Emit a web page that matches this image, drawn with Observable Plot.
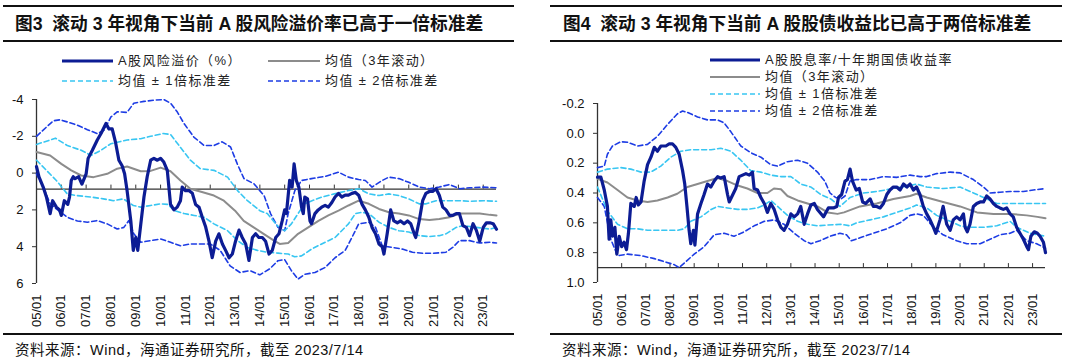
<!DOCTYPE html>
<html><head><meta charset="utf-8">
<script src="https://cdn.jsdelivr.net/npm/d3@7"></script>
<script src="https://cdn.jsdelivr.net/npm/@observablehq/plot@0.6"></script>
<style>
body{margin:0;background:#fff;font-family:"Liberation Sans","Noto Sans CJK SC",sans-serif;color:#111}
#root{position:relative;width:1080px;height:360px;overflow:hidden;background:#fff}
.rule{position:absolute;background:#111}
.title{position:absolute;font-weight:bold;font-size:17.7px;line-height:22px;white-space:pre;color:#111}
.src{position:absolute;font-size:14.5px;letter-spacing:0.5px;line-height:18px;white-space:pre;color:#111}
.leg{position:absolute;font-size:13px;letter-spacing:1.4px;line-height:16px;white-space:pre;color:#222;display:flex;align-items:center}
.leg svg{margin-right:5px}
.plot{position:absolute;top:90px}
</style></head>
<body><div id="root"></div>
<script>
// ---------- data (decimal year, value) ----------
const YEARS = d3.range(2005, 2024);
const END = 2023.535;
const TITLE_L = "图3  滚动 3 年视角下当前 A 股风险溢价率已高于一倍标准差";
const TITLE_R = "图4  滚动 3 年视角下当前 A 股股债收益比已高于两倍标准差";
const SOURCE = "资料来源：Wind，海通证券研究所，截至 2023/7/14";
const LEG_L = ["A股风险溢价（%）", "均值（3年滚动）", "均值 ± 1倍标准差", "均值 ± 2倍标准差"];
const LEG_R = ["A股股息率/十年期国债收益率", "均值（3年滚动）", "均值 ± 1倍标准差", "均值 ± 2倍标准差"];
const L_YTICKS = [-4, -2, 0, 2, 4, 6];
const R_YTICKS = [-0.2, 0.0, 0.2, 0.4, 0.6, 0.8, 1.0];
const L_AXIS = 0.87, R_AXIS = 0.9;

const L_MAIN = [[2005.00,-0.35],[2005.10,0.2],[2005.27,0.76],[2005.40,1.3],[2005.55,2.2],[2005.65,1.5],[2005.80,1.85],[2005.93,2.0],[2006.00,2.3],[2006.12,1.5],[2006.26,1.7],[2006.33,1.3],[2006.40,0.4],[2006.48,0.2],[2006.55,0.3],[2006.70,0.2],[2006.83,0.6],[2007.00,0.04],[2007.08,-0.8],[2007.25,-1.24],[2007.45,-1.8],[2007.60,-2.15],[2007.80,-2.7],[2007.92,-2.4],[2008.05,-2.4],[2008.18,-1.7],[2008.32,-0.7],[2008.45,-0.4],[2008.55,0.04],[2008.65,0.95],[2008.80,2.6],[2008.90,4.2],[2009.00,3.5],[2009.08,4.2],[2009.20,2.8],[2009.33,1.3],[2009.46,0.2],[2009.60,-0.7],[2009.73,-0.8],[2009.87,-0.7],[2010.00,-0.8],[2010.13,-0.6],[2010.27,-0.15],[2010.40,1.7],[2010.54,2.0],[2010.67,1.85],[2010.80,1.5],[2010.87,0.76],[2011.00,0.95],[2011.14,0.95],[2011.28,1.1],[2011.41,1.7],[2011.55,1.85],[2011.68,2.4],[2011.81,2.9],[2011.95,3.7],[2012.08,4.6],[2012.22,3.7],[2012.35,3.3],[2012.49,3.85],[2012.62,4.2],[2012.76,4.6],[2012.89,4.4],[2013.02,3.7],[2013.16,3.1],[2013.29,3.5],[2013.43,3.85],[2013.56,4.75],[2013.70,3.5],[2013.83,3.3],[2013.96,3.5],[2014.10,3.5],[2014.23,3.7],[2014.37,4.4],[2014.50,4.2],[2014.64,3.5],[2014.77,3.3],[2014.90,2.6],[2015.00,2.0],[2015.07,2.2],[2015.20,0.4],[2015.30,0.76],[2015.38,-0.5],[2015.47,0.4],[2015.57,0.76],[2015.68,1.85],[2015.75,2.2],[2015.81,1.3],[2015.92,1.4],[2016.02,2.6],[2016.08,2.75],[2016.22,2.2],[2016.35,2.0],[2016.49,1.85],[2016.63,1.75],[2016.76,1.85],[2016.90,1.6],[2017.03,1.3],[2017.17,1.1],[2017.30,1.3],[2017.44,1.2],[2017.57,1.2],[2017.71,1.1],[2017.85,1.05],[2017.98,1.2],[2018.12,1.7],[2018.25,2.0],[2018.39,2.4],[2018.52,2.95],[2018.66,3.3],[2018.80,3.85],[2018.93,4.0],[2019.00,4.4],[2019.13,3.3],[2019.27,2.0],[2019.40,2.6],[2019.54,2.7],[2019.67,2.6],[2019.81,2.75],[2019.95,2.6],[2020.08,2.75],[2020.22,3.3],[2020.28,3.5],[2020.42,2.6],[2020.56,1.5],[2020.69,1.1],[2020.83,1.0],[2020.96,1.0],[2021.10,0.85],[2021.23,1.2],[2021.37,1.85],[2021.50,2.0],[2021.64,2.3],[2021.77,2.3],[2021.91,2.2],[2022.04,2.2],[2022.18,2.85],[2022.32,2.95],[2022.45,3.4],[2022.59,2.75],[2022.72,3.1],[2022.86,3.7],[2023.00,2.95],[2023.13,2.7],[2023.27,2.7],[2023.40,2.75],[2023.535,3.05]];
const L_MEAN = [[2005.0,-1.15],[2005.55,-0.96],[2006.0,-0.5],[2006.4,-0.15],[2006.8,0.13],[2007.3,0.22],[2007.85,0.04],[2008.25,-0.24],[2008.65,-0.36],[2009.2,-0.1],[2009.6,-0.12],[2010.0,-0.3],[2010.4,-0.1],[2010.8,0.4],[2011.2,0.85],[2011.7,1.04],[2012.15,1.22],[2012.55,1.5],[2013.0,2.04],[2013.35,2.6],[2013.75,2.95],[2014.15,3.3],[2014.57,3.67],[2014.8,3.85],[2015.14,3.8],[2015.54,3.3],[2015.95,2.95],[2016.36,2.6],[2016.76,2.3],[2017.17,2.04],[2017.57,1.76],[2017.98,1.5],[2018.39,1.67],[2018.8,1.95],[2019.2,2.13],[2019.6,2.2],[2020.0,2.3],[2020.42,2.5],[2020.83,2.55],[2021.23,2.5],[2021.64,2.4],[2022.05,2.2],[2022.45,2.2],[2022.86,2.2],[2023.27,2.27],[2023.535,2.3]];
const L_SD1_LO = [[2005.0,-1.56],[2005.55,-1.8],[2005.76,-1.9],[2006.24,-1.5],[2006.8,-1.24],[2007.2,-0.96],[2007.6,-1.24],[2008.0,-1.6],[2008.65,-1.8],[2009.2,-1.87],[2009.6,-2.0],[2010.1,-2.15],[2010.4,-2.1],[2010.8,-1.4],[2011.2,-0.7],[2011.6,-0.24],[2012.15,-0.15],[2012.7,0.22],[2013.1,0.95],[2013.5,1.5],[2014.0,2.04],[2014.3,2.2],[2014.7,2.85],[2015.0,3.13],[2015.27,2.76],[2015.54,2.2],[2015.8,1.67],[2016.1,1.5],[2016.5,1.3],[2017.0,1.13],[2017.57,0.95],[2018.0,0.85],[2018.39,1.13],[2018.8,1.22],[2019.2,1.13],[2019.6,1.22],[2020.0,1.4],[2020.42,1.67],[2020.7,1.67],[2021.1,1.5],[2021.64,1.5],[2022.05,1.5],[2022.45,1.53],[2023.0,1.5],[2023.535,1.53]];
const L_SD1_HI = [[2005.0,-0.7],[2005.4,-0.15],[2005.8,0.4],[2006.24,1.13],[2006.6,1.22],[2007.2,1.3],[2007.7,1.4],[2008.1,1.5],[2008.5,1.4],[2008.9,1.76],[2009.2,1.85],[2009.6,1.76],[2010.0,1.67],[2010.3,1.7],[2010.55,2.04],[2010.95,2.2],[2011.35,2.3],[2011.75,2.4],[2012.15,2.76],[2012.7,3.13],[2013.1,3.67],[2013.5,4.04],[2013.9,4.2],[2014.3,4.3],[2014.73,4.35],[2015.14,4.4],[2015.4,4.55],[2015.68,4.5],[2016.08,4.13],[2016.49,3.85],[2017.03,3.5],[2017.57,2.76],[2017.85,2.2],[2018.12,2.13],[2018.39,2.2],[2018.8,2.67],[2019.2,2.95],[2019.6,3.13],[2020.0,3.2],[2020.42,3.4],[2020.83,3.45],[2021.23,3.4],[2021.5,3.3],[2021.91,2.95],[2022.18,2.85],[2022.72,2.95],[2023.27,3.04],[2023.535,2.95]];
const L_SD2_LO = [[2005.0,-2.0],[2005.4,-2.5],[2005.68,-2.84],[2005.95,-2.9],[2006.24,-2.78],[2006.65,-2.6],[2007.05,-2.36],[2007.45,-2.15],[2007.72,-2.33],[2008.0,-3.05],[2008.25,-3.33],[2008.65,-3.3],[2008.92,-3.8],[2009.33,-3.9],[2009.73,-3.96],[2010.13,-4.0],[2010.4,-3.8],[2010.67,-3.33],[2010.94,-2.7],[2011.34,-1.96],[2011.75,-1.5],[2012.15,-1.5],[2012.48,-1.7],[2012.82,-1.42],[2013.09,-0.5],[2013.36,0.3],[2013.76,0.58],[2014.17,1.22],[2014.43,2.2],[2014.73,2.95],[2015.0,3.13],[2015.14,2.2],[2015.41,0.95],[2015.68,0.4],[2016.08,0.3],[2016.63,0.18],[2017.17,-0.05],[2017.57,0.22],[2017.98,0.35],[2018.25,0.4],[2018.52,0.76],[2018.93,0.4],[2019.2,0.22],[2019.6,0.3],[2020.0,0.5],[2020.42,0.76],[2020.83,0.85],[2021.23,0.76],[2021.64,0.62],[2022.05,0.85],[2022.45,0.8],[2023.0,0.76],[2023.535,0.8]];
const L_SD2_HI = [[2005.0,0.04],[2005.27,0.76],[2005.55,1.67],[2005.8,1.95],[2006.24,2.4],[2006.65,2.6],[2007.05,2.67],[2007.45,2.58],[2007.85,2.76],[2008.25,3.04],[2008.52,2.95],[2008.72,2.58],[2008.92,3.3],[2009.2,3.76],[2009.6,3.67],[2010.0,3.58],[2010.4,3.76],[2010.8,3.95],[2011.2,3.85],[2011.6,3.85],[2012.0,3.85],[2012.4,4.2],[2012.8,5.04],[2013.2,5.4],[2013.6,5.3],[2014.0,5.53],[2014.4,5.2],[2014.73,4.76],[2015.0,4.7],[2015.27,5.3],[2015.54,5.76],[2015.81,5.5],[2016.22,5.4],[2016.63,5.13],[2017.03,4.6],[2017.44,4.2],[2017.71,3.5],[2017.98,2.76],[2018.39,2.67],[2018.66,2.95],[2018.93,3.95],[2019.34,4.04],[2019.74,4.13],[2020.15,4.3],[2020.56,4.36],[2020.96,4.36],[2021.5,4.3],[2021.77,4.04],[2022.04,3.67],[2022.45,3.67],[2022.86,3.8],[2023.27,3.76],[2023.535,3.8]];

const R_MAIN = [[2005.0,0.294],[2005.14,0.294],[2005.28,0.38],[2005.41,0.49],[2005.48,0.71],[2005.55,0.58],[2005.62,0.69],[2005.72,0.63],[2005.8,0.81],[2005.9,0.69],[2006.0,0.76],[2006.1,0.73],[2006.2,0.78],[2006.28,0.67],[2006.38,0.47],[2006.52,0.49],[2006.6,0.43],[2006.69,0.48],[2006.8,0.46],[2006.93,0.32],[2007.07,0.21],[2007.21,0.16],[2007.35,0.094],[2007.48,0.12],[2007.62,0.085],[2007.83,0.085],[2007.97,0.07],[2008.1,0.07],[2008.24,0.094],[2008.38,0.14],[2008.52,0.25],[2008.61,0.34],[2008.7,0.49],[2008.79,0.65],[2008.86,0.74],[2008.97,0.65],[2009.03,0.75],[2009.14,0.54],[2009.28,0.47],[2009.41,0.41],[2009.55,0.34],[2009.69,0.36],[2009.83,0.32],[2009.97,0.29],[2010.1,0.30],[2010.24,0.29],[2010.38,0.41],[2010.45,0.46],[2010.6,0.41],[2010.72,0.37],[2010.86,0.29],[2011.0,0.28],[2011.14,0.27],[2011.28,0.28],[2011.41,0.26],[2011.48,0.37],[2011.62,0.38],[2011.76,0.43],[2011.9,0.47],[2012.03,0.53],[2012.17,0.47],[2012.31,0.51],[2012.45,0.58],[2012.59,0.63],[2012.72,0.65],[2012.86,0.61],[2013.0,0.54],[2013.14,0.56],[2013.28,0.54],[2013.41,0.49],[2013.55,0.61],[2013.69,0.54],[2013.83,0.48],[2013.97,0.47],[2014.1,0.51],[2014.35,0.56],[2014.55,0.5],[2014.76,0.5],[2014.9,0.49],[2014.97,0.43],[2015.1,0.41],[2015.24,0.32],[2015.34,0.31],[2015.45,0.24],[2015.55,0.32],[2015.7,0.38],[2015.83,0.37],[2015.97,0.46],[2016.1,0.47],[2016.28,0.44],[2016.41,0.49],[2016.55,0.49],[2016.69,0.5],[2016.83,0.47],[2016.97,0.41],[2017.1,0.38],[2017.24,0.36],[2017.38,0.36],[2017.52,0.38],[2017.66,0.34],[2017.8,0.36],[2017.93,0.34],[2018.07,0.38],[2018.2,0.36],[2018.34,0.41],[2018.48,0.49],[2018.62,0.54],[2018.76,0.58],[2018.9,0.63],[2019.0,0.67],[2019.17,0.58],[2019.3,0.49],[2019.45,0.61],[2019.59,0.65],[2019.72,0.58],[2019.86,0.56],[2020.0,0.58],[2020.14,0.54],[2020.21,0.63],[2020.3,0.66],[2020.41,0.61],[2020.55,0.49],[2020.69,0.47],[2020.83,0.46],[2020.97,0.46],[2021.1,0.42],[2021.24,0.44],[2021.38,0.47],[2021.52,0.49],[2021.65,0.5],[2021.79,0.51],[2021.93,0.5],[2022.07,0.54],[2022.2,0.56],[2022.34,0.63],[2022.48,0.67],[2022.62,0.71],[2022.76,0.76],[2022.83,0.78],[2022.93,0.69],[2023.07,0.66],[2023.2,0.67],[2023.31,0.69],[2023.45,0.73],[2023.535,0.8]];
const R_MEAN = [[2005.0,0.305],[2005.41,0.33],[2005.83,0.38],[2006.24,0.43],[2006.66,0.45],[2007.07,0.46],[2007.48,0.45],[2007.9,0.43],[2008.3,0.405],[2008.72,0.36],[2009.14,0.34],[2009.55,0.32],[2009.97,0.3],[2010.38,0.32],[2010.8,0.35],[2011.2,0.37],[2011.62,0.40],[2012.03,0.40],[2012.3,0.37],[2012.59,0.375],[2012.86,0.42],[2013.28,0.45],[2013.69,0.47],[2014.1,0.49],[2014.52,0.53],[2014.93,0.54],[2015.2,0.53],[2015.86,0.49],[2016.55,0.47],[2017.24,0.44],[2017.93,0.42],[2018.2,0.405],[2018.62,0.43],[2019.3,0.46],[2020.0,0.49],[2020.7,0.53],[2021.38,0.54],[2022.07,0.54],[2022.76,0.55],[2023.2,0.56],[2023.535,0.57]];
const R_SD1_LO = [[2005.0,0.26],[2005.41,0.24],[2005.97,0.23],[2006.38,0.24],[2006.8,0.26],[2007.2,0.26],[2007.62,0.22],[2008.03,0.16],[2008.45,0.12],[2008.86,0.11],[2009.28,0.11],[2009.7,0.11],[2010.1,0.1],[2010.52,0.12],[2010.93,0.18],[2011.34,0.25],[2011.76,0.26],[2012.17,0.28],[2012.59,0.29],[2013.0,0.29],[2013.41,0.34],[2013.83,0.36],[2014.24,0.41],[2014.65,0.44],[2015.03,0.49],[2015.45,0.43],[2016.0,0.40],[2016.55,0.39],[2017.24,0.37],[2017.93,0.35],[2018.2,0.34],[2018.62,0.36],[2019.3,0.37],[2020.0,0.36],[2020.7,0.41],[2021.1,0.44],[2021.52,0.47],[2022.07,0.47],[2022.76,0.47],[2023.535,0.47]];
const R_SD1_HI = [[2005.0,0.36],[2005.41,0.52],[2005.83,0.61],[2006.24,0.64],[2006.66,0.64],[2007.07,0.65],[2007.48,0.65],[2007.9,0.65],[2008.3,0.65],[2008.59,0.64],[2008.86,0.59],[2009.28,0.56],[2009.7,0.51],[2009.97,0.49],[2010.38,0.5],[2010.8,0.51],[2011.2,0.51],[2011.62,0.5],[2011.9,0.48],[2012.17,0.45],[2012.45,0.49],[2012.86,0.55],[2013.28,0.59],[2013.69,0.61],[2014.1,0.62],[2014.52,0.615],[2015.07,0.61],[2015.45,0.62],[2015.72,0.6],[2016.28,0.58],[2016.83,0.56],[2017.38,0.53],[2017.93,0.5],[2018.2,0.48],[2018.62,0.5],[2019.03,0.55],[2019.59,0.59],[2020.0,0.62],[2020.41,0.63],[2020.97,0.63],[2021.52,0.62],[2022.07,0.59],[2022.34,0.63],[2022.9,0.67],[2023.535,0.69]];
const R_SD2_LO = [[2005.0,0.23],[2005.28,0.22],[2005.41,0.14],[2005.62,0.085],[2005.97,0.056],[2006.24,0.06],[2006.66,0.085],[2007.07,0.074],[2007.48,0.02],[2007.9,-0.06],[2008.3,-0.13],[2008.52,-0.15],[2008.72,-0.14],[2009.14,-0.11],[2009.55,-0.09],[2009.97,-0.09],[2010.24,-0.07],[2010.52,-0.01],[2010.93,0.085],[2011.34,0.13],[2011.76,0.16],[2012.17,0.21],[2012.45,0.22],[2012.86,0.19],[2013.28,0.18],[2013.69,0.2],[2014.1,0.26],[2014.4,0.32],[2014.62,0.4],[2014.85,0.43],[2015.07,0.44],[2015.24,0.42],[2015.45,0.32],[2015.72,0.31],[2016.28,0.31],[2016.83,0.29],[2017.38,0.295],[2017.93,0.28],[2018.34,0.29],[2018.62,0.29],[2019.03,0.27],[2019.59,0.26],[2020.0,0.265],[2020.55,0.31],[2020.97,0.36],[2021.24,0.4],[2021.65,0.395],[2022.07,0.39],[2022.62,0.39],[2023.03,0.38],[2023.535,0.37]];
const R_SD2_HI = [[2005.0,0.43],[2005.28,0.49],[2005.55,0.71],[2005.83,0.82],[2006.24,0.81],[2006.8,0.82],[2007.35,0.84],[2007.76,0.86],[2008.17,0.88],[2008.38,0.9],[2008.59,0.87],[2009.0,0.81],[2009.41,0.76],[2009.83,0.68],[2010.24,0.67],[2010.65,0.69],[2011.07,0.66],[2011.48,0.62],[2011.9,0.59],[2012.31,0.58],[2012.72,0.61],[2013.14,0.67],[2013.55,0.72],[2013.83,0.74],[2014.2,0.72],[2014.62,0.69],[2015.03,0.67],[2015.3,0.68],[2015.5,0.72],[2015.86,0.7],[2016.41,0.67],[2016.97,0.64],[2017.52,0.6],[2017.93,0.55],[2018.2,0.54],[2018.48,0.55],[2018.9,0.63],[2019.3,0.68],[2019.86,0.72],[2020.28,0.74],[2020.83,0.74],[2021.24,0.71],[2021.65,0.68],[2022.07,0.67],[2022.34,0.65],[2022.76,0.72],[2023.17,0.74],[2023.535,0.77]];

// ---------- styles ----------
const C_MAIN = "#0c1c94", C_MEAN = "#8c8c8c", C_SD1 = "#38c6f2", C_SD2 = "#1d3ce4", C_AX = "#333";
const DASH = "5,3";
const FONT = '"Liberation Sans","Noto Sans CJK SC",sans-serif';

const root = document.getElementById("root");
function el(cls, css, text) {
  const d = document.createElement("div");
  d.className = cls; Object.assign(d.style, css);
  if (text != null) d.textContent = text;
  root.appendChild(d); return d;
}
function swatch(w, color, sw, dash) {
  const ns = "http://www.w3.org/2000/svg";
  const s = document.createElementNS(ns, "svg");
  s.setAttribute("width", w); s.setAttribute("height", 6);
  const l = document.createElementNS(ns, "line");
  l.setAttribute("x1", 0); l.setAttribute("x2", w); l.setAttribute("y1", 3); l.setAttribute("y2", 3);
  l.setAttribute("stroke", color); l.setAttribute("stroke-width", sw);
  if (dash) l.setAttribute("stroke-dasharray", dash);
  s.appendChild(l); return s;
}
function legendItem(x, y, w, style, text) {
  const d = el("leg", {left: x + "px", top: (y - 8) + "px"});
  d.appendChild(swatch(w, ...style));
  d.appendChild(document.createTextNode(text));
}
const STY = [[C_MAIN, 3, null], [C_MEAN, 2, null], [C_SD1, 1.6, DASH], [C_SD2, 1.6, DASH]];

function panel(o) {
  const obj = a => a.map(([t, v]) => ({t, v}));
  const ln = (a, stroke, w, dash) => Plot.line(obj(a), {x: "t", y: "v", stroke, strokeWidth: w, strokeDasharray: dash, strokeLinejoin: "round", curve: "linear"});
  return Plot.plot({
    width: 540, height: 240,
    marginLeft: o.ml, marginRight: o.mr, marginTop: o.mt, marginBottom: o.mb,
    x: {type: "linear", domain: [2005, END]},
    y: {domain: o.yDomain, reverse: true},
    style: {fontFamily: FONT, fontSize: "13px", color: "#111", background: "transparent", overflow: "visible"},
    marks: [
      Plot.ruleY([o.axis], {stroke: C_AX, strokeWidth: 1.3}),
      Plot.ruleX(YEARS, {x: d => d, y1: o.axis, y2: o.axis, insetTop: -4, stroke: C_AX}),
      Plot.ruleX([2005], {y1: o.yDomain[0], y2: o.yDomain[1], stroke: C_AX, strokeWidth: 1.3}),
      Plot.axisY({ticks: o.yTicks, tickSize: 4, tickPadding: 9, tickFormat: o.yFmt, label: null, stroke: C_AX}),
      Plot.axisX({ticks: YEARS, tickSize: 0, tickPadding: 11, tickRotate: -90, label: null,
        tickFormat: d => String(d % 100).padStart(2, "0") + "/01"}),
      ln(o.sd2lo, C_SD2, 1.6, DASH), ln(o.sd2hi, C_SD2, 1.6, DASH),
      ln(o.sd1lo, C_SD1, 1.6, DASH), ln(o.sd1hi, C_SD1, 1.6, DASH),
      ln(o.mean, C_MEAN, 2, null),
      ln(o.main, C_MAIN, 3.2, null)
    ]
  });
}

// ---------- frame: rules, titles, sources ----------
for (const [x0, x1] of [[3, 514], [550, 1062]]) {
  el("rule", {left: x0 + "px", width: (x1 - x0) + "px", top: "5px", height: "2px"});
  el("rule", {left: x0 + "px", width: (x1 - x0) + "px", top: "40px", height: "1.5px"});
  el("rule", {left: x0 + "px", width: (x1 - x0) + "px", top: "333px", height: "1.5px"});
}
el("title", {left: "15px", top: "13px"}, TITLE_L);
el("title", {left: "563px", top: "13px"}, TITLE_R);
el("src", {left: "15px", top: "341px"}, SOURCE);
el("src", {left: "562px", top: "341px"}, SOURCE);

// legends
legendItem(62, 61, 51, STY[0], LEG_L[0]);
legendItem(268, 61, 52, STY[1], LEG_L[1]);
legendItem(62, 81, 51, STY[2], LEG_L[2]);
legendItem(268, 81, 52, STY[3], LEG_L[3]);
[60, 77, 94, 111].forEach((y, i) => legendItem(710, y, 50, STY[i], LEG_R[i]));

// plots
const left = panel({
  main: L_MAIN, mean: L_MEAN, sd1lo: L_SD1_LO, sd1hi: L_SD1_HI, sd2lo: L_SD2_LO, sd2hi: L_SD2_HI,
  yDomain: [-4, 6], yTicks: L_YTICKS, yFmt: d => String(d), axis: L_AXIS,
  ml: 36, mr: 44, mt: 9, mb: 47
});
left.classList.add("plot"); left.style.left = "0px";
root.appendChild(left);

const right = panel({
  main: R_MAIN, mean: R_MEAN, sd1lo: R_SD1_LO, sd1hi: R_SD1_HI, sd2lo: R_SD2_LO, sd2hi: R_SD2_HI,
  yDomain: [-0.2, 1.0], yTicks: R_YTICKS, yFmt: d => (d < -1e-9 ? "-" : "") + Math.abs(d).toFixed(1), axis: R_AXIS,
  ml: 57, mr: 35, mt: 13, mb: 48
});
right.classList.add("plot"); right.style.left = "540px";
root.appendChild(right);
</script></body></html>
